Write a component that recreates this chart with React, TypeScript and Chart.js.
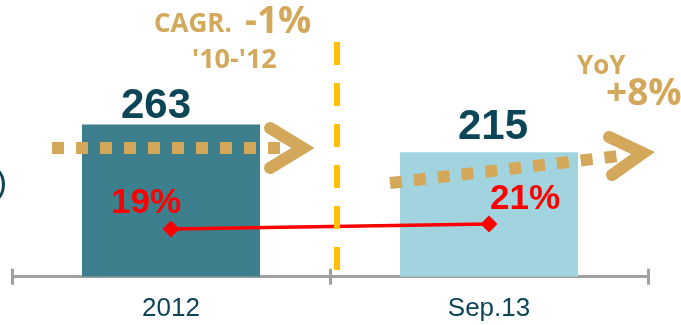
import React, { useEffect, useRef } from 'react';
import { Chart, registerables } from 'chart.js';

Chart.register(...registerables);

// ---- data ----
const categories = ['2012', 'Sep.13'];
const volumes = [263, 215];
const shares = [19, 21];
const shareLabels = ['19%', '21%'];
const barColors = ['#3e7f8e', '#a2d4e0'];
const cagrTitle = 'CAGR.';
const cagrValue = '-1%';
const cagrPeriod = "'10-'12";
const yoyTitle = 'YoY';
const yoyValue = '+8%';

const TAN = '#d4a85b';
const TEAL_TEXT = '#0c4558';
const AXIS = '#a0a0a0';
const RED = '#ff0000';

const decorPlugin = {
  id: 'decor',
  afterDatasetsDraw(chart: any) {
    const ctx = chart.ctx;
    const area = chart.chartArea;
    const xs = chart.scales.x;
    const barMeta = chart.getDatasetMeta(1);
    const lineMeta = chart.getDatasetMeta(0);
    ctx.save();

    // upper halves of the axis tick marks
    ctx.strokeStyle = AXIS;
    ctx.lineWidth = 3;
    const half = (xs.getPixelForValue(1) - xs.getPixelForValue(0)) / 2;
    [xs.getPixelForValue(0) - half, xs.getPixelForValue(0) + half, xs.getPixelForValue(1) + half].forEach((px: number) => {
      ctx.beginPath();
      ctx.moveTo(Math.round(px) + 0.5, area.bottom - 8);
      ctx.lineTo(Math.round(px) + 0.5, area.bottom);
      ctx.stroke();
    });

    // dashed yellow divider
    ctx.strokeStyle = '#ffc000';
    ctx.lineWidth = 6;
    ctx.setLineDash([23, 18]);
    const divX = (xs.getPixelForValue(0) + xs.getPixelForValue(1)) / 2 + 7;
    ctx.beginPath();
    ctx.moveTo(divX, 42);
    ctx.lineTo(divX, area.bottom - 5);
    ctx.stroke();

    // dotted arrows
    ctx.strokeStyle = TAN;
    ctx.lineWidth = 12;
    ctx.lineCap = 'butt';
    ctx.setLineDash([12, 12]);
    ctx.beginPath();
    ctx.moveTo(52, 148);
    ctx.lineTo(281, 148);
    ctx.stroke();
    ctx.beginPath();
    ctx.moveTo(390, 183);
    ctx.lineTo(619, 156);
    ctx.stroke();

    // chevrons
    ctx.setLineDash([]);
    ctx.lineCap = 'round';
    ctx.lineJoin = 'miter';
    ctx.miterLimit = 10;
    ctx.beginPath();
    ctx.moveTo(270, 128);
    ctx.lineTo(303, 148);
    ctx.lineTo(270, 168);
    ctx.stroke();
    ctx.beginPath();
    ctx.moveTo(609, 137);
    ctx.lineTo(643, 153);
    ctx.lineTo(612, 175);
    ctx.stroke();

    // value labels above bars
    const valOffsets = [[-15, -6], [4, -13]];
    ctx.fillStyle = TEAL_TEXT;
    ctx.font = 'bold 42px "Liberation Sans", Arial, sans-serif';
    ctx.textAlign = 'center';
    ctx.textBaseline = 'alphabetic';
    barMeta.data.forEach((el: any, i: number) => {
      ctx.fillText(String(volumes[i]), el.x + valOffsets[i][0], el.y + valOffsets[i][1]);
    });

    // share labels
    const shareOffsets = [[-25, -16], [36, -15]];
    ctx.fillStyle = RED;
    ctx.font = 'bold 35px "Liberation Sans", Arial, sans-serif';
    lineMeta.data.forEach((el: any, i: number) => {
      ctx.fillText(shareLabels[i], el.x + shareOffsets[i][0], el.y + shareOffsets[i][1]);
    });

    // annotations
    ctx.fillStyle = TAN;
    ctx.textAlign = 'left';
    ctx.font = 'bold 26px "Open Sans", sans-serif';
    ctx.fillText(cagrTitle, 154, 32);
    ctx.font = 'bold 37px "Open Sans", sans-serif';
    ctx.fillText(cagrValue, 245, 33);
    ctx.font = 'bold 27px "Open Sans", sans-serif';
    ctx.fillText(cagrPeriod, 192, 68);
    ctx.font = 'bold 26px "Open Sans", sans-serif';
    ctx.fillText(yoyTitle, 577, 74);
    ctx.font = 'bold 37px "Open Sans", sans-serif';
    ctx.fillText(yoyValue, 606, 105);

    // cut-off bracket on left
    ctx.fillStyle = TEAL_TEXT;
    ctx.textAlign = 'right';
    ctx.font = '34px "Liberation Sans", Arial, sans-serif';
    ctx.fillText(')', 7, 193);

    ctx.restore();
  },
};

export default function App() {
  const ref = useRef<HTMLCanvasElement | null>(null);
  useEffect(() => {
    if (!ref.current) return;
    const chart = new Chart(ref.current, {
      type: 'bar',
      data: {
        labels: categories,
        datasets: [
          {
            type: 'line',
            data: shares,
            yAxisID: 'y1',
            borderColor: RED,
            backgroundColor: RED,
            borderWidth: 3.5,
            pointStyle: 'rectRot',
            pointRadius: 8.5,
            pointBackgroundColor: RED,
            pointBorderWidth: 0,
            order: 0,
          } as any,
          {
            type: 'bar',
            data: volumes,
            yAxisID: 'y',
            backgroundColor: barColors,
            barPercentage: 0.56,
            categoryPercentage: 1,
            order: 1,
          },
        ],
      },
      options: {
        responsive: false,
        animation: false,
        events: [],
        layout: { padding: { top: 103, left: 12, right: 33, bottom: -7 } },
        plugins: { legend: { display: false }, tooltip: { enabled: false } },
        scales: {
          x: {
            offset: true,
            border: { display: true, color: AXIS, width: 3 },
            grid: { offset: true, drawOnChartArea: false, color: AXIS, lineWidth: 3, tickLength: 8, drawTicks: true },
            ticks: {
              color: TEAL_TEXT,
              padding: 8,
              font: { family: '"Liberation Sans", Arial, sans-serif', size: 26 },
            },
          },
          y: { display: false, min: 0, max: 300 },
          y1: { display: false, min: 0, max: 69.2 },
        },
      },
      plugins: [decorPlugin],
    });
    return () => chart.destroy();
  }, []);
  return (
    <div style={{ position: 'absolute', left: 0, top: 0, width: 681, height: 325, background: '#fff' }}>
      <canvas ref={ref} width={681} height={325} style={{ display: 'block' }} />
    </div>
  );
}
